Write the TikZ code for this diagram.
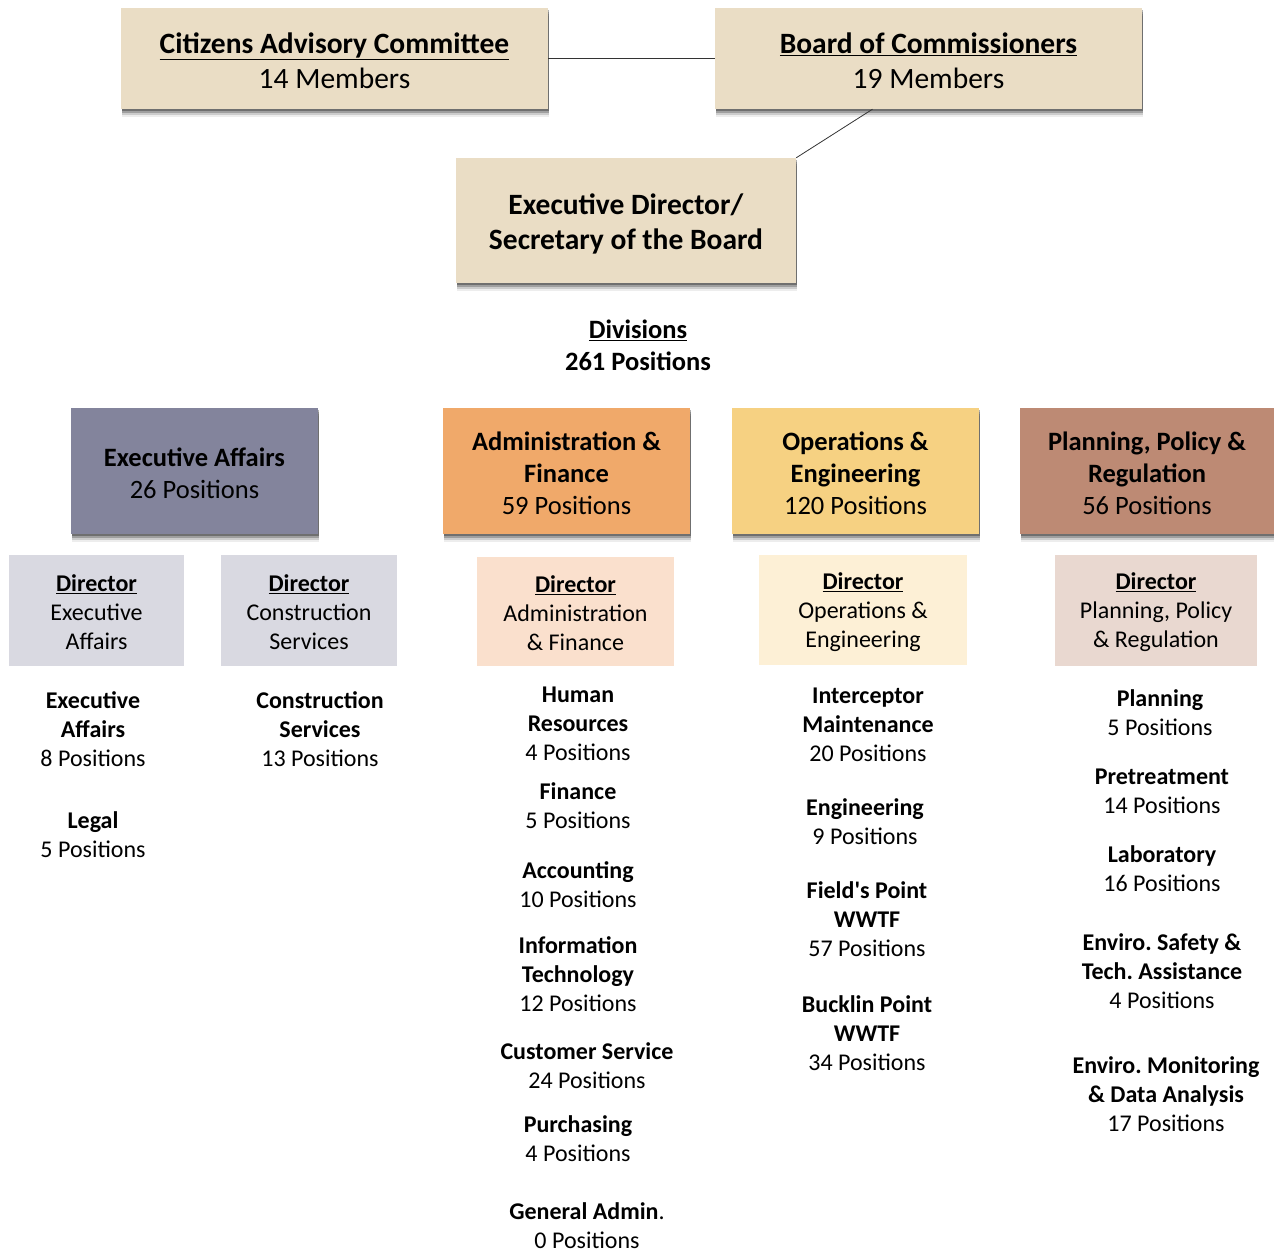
\documentclass[tikz,border=0pt]{standalone}
\usepackage{fontspec}
\setmainfont{Carlito}
\usetikzlibrary{shadows}
\frenchspacing

\definecolor{boardtan}{HTML}{EADDC5}
\definecolor{eafill}{HTML}{83849C}
\definecolor{affill}{HTML}{F0A96A}
\definecolor{oefill}{HTML}{F6D182}
\definecolor{pprfill}{HTML}{BD8A74}
\definecolor{deafill}{HTML}{D9D9E1}
\definecolor{daffill}{HTML}{FAE0CD}
\definecolor{doefill}{HTML}{FDF0D6}
\definecolor{dpprfill}{HTML}{E9D8D0}

\newcommand\topfont{\fontsize{29.5}{35.5}\selectfont}
\newcommand\divfont{\fontsize{26.5}{32}\selectfont}
\newcommand\itemfont{\fontsize{24}{29}\selectfont}
% invisible strut that pushes the first line down
\newcommand\lift[1]{\rule{0pt}{#1}}

\tikzset{
    boxshadow/.style={
        drop shadow={shadow xshift=1pt,shadow yshift=-2pt,fill=black,opacity=0.3},
        drop shadow={shadow xshift=1pt,shadow yshift=-4pt,fill=black,opacity=0.22},
        drop shadow={shadow xshift=1pt,shadow yshift=-6pt,fill=black,opacity=0.14},
        drop shadow={shadow xshift=1pt,shadow yshift=-8pt,fill=black,opacity=0.07}},
    topbox/.style={boxshadow,fill=boardtan,inner sep=0pt,align=center,font=\topfont},
    divbox/.style={boxshadow,fill=#1,inner sep=0pt,align=center,font=\divfont,
        minimum width=247pt,minimum height=126pt},
    dirbox/.style={fill=#1,inner sep=0pt,align=center,font=\itemfont,minimum height=111pt},
    item/.style={inner sep=0pt,align=center,font=\itemfont},
}

\begin{document}
\begin{tikzpicture}[x=1pt,y=-1pt]
    \useasboundingbox (0,0) rectangle (1274,1252);

    % board level
    \node [topbox,minimum width=427pt,minimum height=101pt] (cac) at (334.5,58.5)
        {\lift{25pt}\textbf{\underline{Citizens Advisory Committee}}\\14 Members};
    \node [topbox,minimum width=427pt,minimum height=101pt] (boc) at (928.5,58.5)
        {\lift{25pt}\textbf{\underline{Board of Commissioners}}\\19 Members};
    \node [topbox,minimum width=340pt,minimum height=125pt] (ed) at (626,220.5)
        {\lift{28pt}\textbf{Executive Director/}\\\textbf{Secretary of the Board}};

    \draw [thick,black!80] (cac.east) -- (boc.west);
    \draw [thick,black!80] (ed.north east) -- ([xshift=-56pt]boc.south);

    \node [item,font=\divfont] (divs) at (638,345)
        {\textbf{\underline{Divisions}}\\\textbf{261 Positions}};

    % divisions
    \node [divbox=eafill] (ea) at (194.5,471) {\lift{24pt}\textbf{Executive Affairs}\\26 Positions};
    \node [divbox=affill] (af) at (566.5,471) {\lift{24pt}\textbf{Administration \&}\\\textbf{Finance}\\59 Positions};
    \node [divbox=oefill] (oe) at (855.5,471) {\lift{24pt}\textbf{Operations \&}\\\textbf{Engineering}\\120 Positions};
    \node [divbox=pprfill,minimum width=254pt] (ppr) at (1147,471) {\lift{24pt}\textbf{Planning, Policy \&}\\\textbf{Regulation}\\56 Positions};

    % directors
    \node [dirbox=deafill,minimum width=175pt] (dea) at (96.5,610.5) {\lift{21pt}\textbf{\underline{Director}}\\Executive\\Affairs};
    \node [dirbox=deafill,minimum width=176pt] (dcs) at (309,610.5) {\lift{21pt}\textbf{\underline{Director}}\\Construction\\Services};
    \node [dirbox=daffill,minimum width=197pt,minimum height=109pt] (daf) at (575.5,611.5) {\lift{21pt}\textbf{\underline{Director}}\\Administration\\\& Finance};
    \node [dirbox=doefill,minimum width=208pt,minimum height=110pt] (doe) at (863,610) {\lift{21pt}\textbf{\underline{Director}}\\Operations \&\\Engineering};
    \node [dirbox=dpprfill,minimum width=202pt] (dppr) at (1156,610.5) {\lift{21pt}\textbf{\underline{Director}}\\Planning, Policy\\\& Regulation};

    % executive affairs sections
    \node [item] (eaexec) at (93,729) {\textbf{Executive}\\\textbf{Affairs}\\8 Positions};
    \node [item] (ealegal) at (93,834.5) {\textbf{Legal}\\5 Positions};
    \node [item] (cscons) at (320,729) {\textbf{Construction}\\\textbf{Services}\\13 Positions};

    % administration & finance sections
    \node [item] (afhr) at (578,723.5) {\textbf{Human}\\\textbf{Resources}\\4 Positions};
    \node [item] (affin) at (578,805.5) {\textbf{Finance}\\5 Positions};
    \node [item] (afacc) at (578,884.5) {\textbf{Accounting}\\10 Positions};
    \node [item] (afit) at (578,974.5) {\textbf{Information}\\\textbf{Technology}\\12 Positions};
    \node [item] (afcs) at (587,1065.5) {\textbf{Customer Service}\\24 Positions};
    \node [item] (afpur) at (578,1138.5) {\textbf{Purchasing}\\4 Positions};
    \node [item] (afga) at (587,1225.5) {\textbf{General Admin}.\\0 Positions};

    % operations & engineering sections
    \node [item] (oeint) at (868,725) {\textbf{Interceptor}\\\textbf{Maintenance}\\20 Positions};
    \node [item] (oeeng) at (865,821.5) {\textbf{Engineering}\\9 Positions};
    \node [item] (oefp) at (867,919) {\textbf{Field\textquotesingle s Point}\\\textbf{WWTF}\\57 Positions};
    \node [item] (oebp) at (867,1033) {\textbf{Bucklin Point}\\\textbf{WWTF}\\34 Positions};

    % planning, policy & regulation sections
    \node [item] (pprplan) at (1160,712.5) {\textbf{Planning}\\5 Positions};
    \node [item] (pprpre) at (1162,791) {\textbf{Pretreatment}\\14 Positions};
    \node [item] (pprlab) at (1162,868.5) {\textbf{Laboratory}\\16 Positions};
    \node [item] (pprsafe) at (1162,971.5) {\textbf{Enviro. Safety \&}\\\textbf{Tech. Assistance}\\4 Positions};
    \node [item] (pprmon) at (1166,1094) {\textbf{Enviro. Monitoring}\\\textbf{\& Data Analysis}\\17 Positions};
\end{tikzpicture}
\end{document}
